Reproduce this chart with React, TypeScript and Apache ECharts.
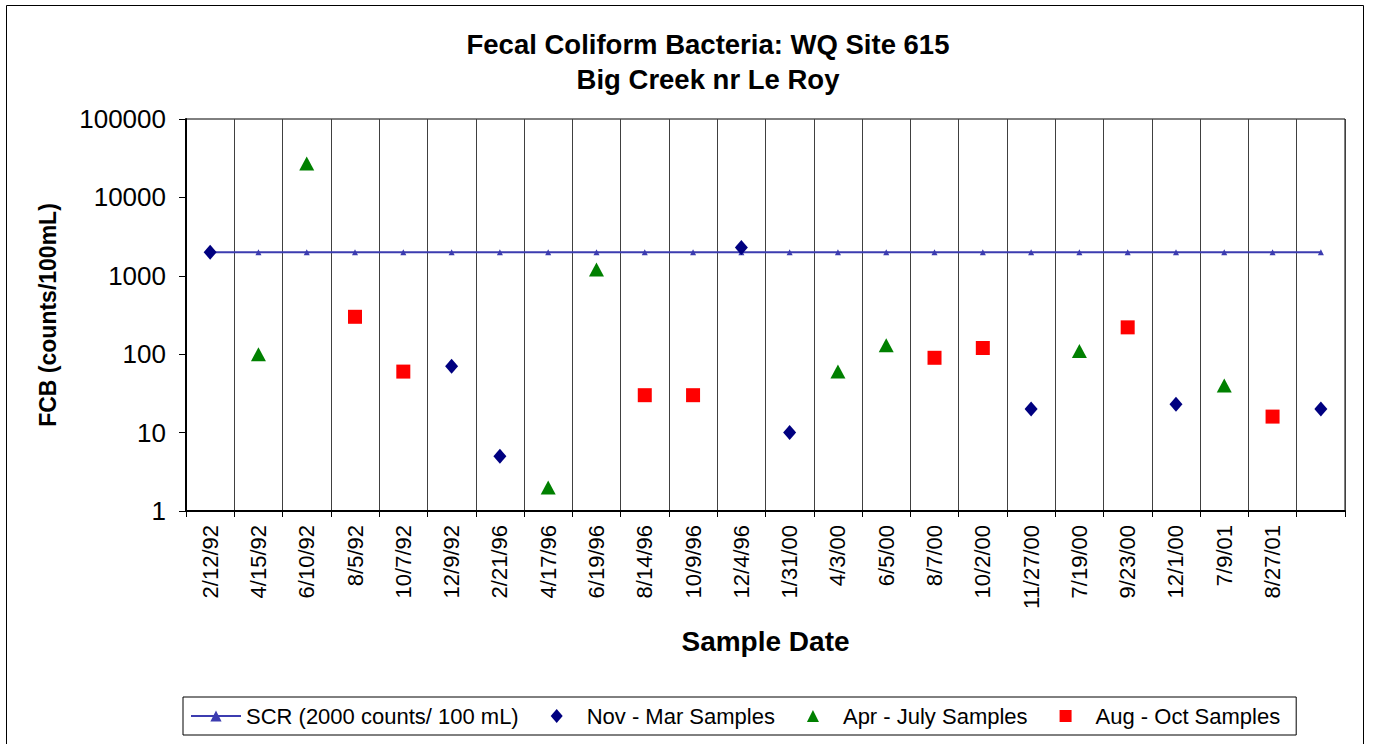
import React, { useEffect, useRef } from "react";
import * as echarts from "echarts";

const categories = ["2/12/92","4/15/92","6/10/92","8/5/92","10/7/92","12/9/92","2/21/96","4/17/96","6/19/96","8/14/96","10/9/96","12/4/96","1/31/00","4/3/00","6/5/00","8/7/00","10/2/00","11/27/00","7/19/00","9/23/00","12/1/00","7/9/01","8/27/01",""];
const scr = [2000,2000,2000,2000,2000,2000,2000,2000,2000,2000,2000,2000,2000,2000,2000,2000,2000,2000,2000,2000,2000,2000,2000,2000];
const novMar = [2000,null,null,null,null,70,5,null,null,null,null,2300,10,null,null,null,null,20,null,null,23,null,null,20];
const aprJul = [null,100,27000,null,null,null,null,2,1200,null,null,null,null,60,130,null,null,null,110,null,null,40,null,null];
const augOct = [null,null,null,300,60,null,null,null,null,30,30,null,null,null,null,90,120,null,null,220,null,null,16,null];
const yTicks = [1, 10, 100, 1000, 10000, 100000];

const FONT = "'Liberation Sans', Arial, sans-serif";

// legend icons: a 50x14 box (corner move-tos) with a small centred symbol
const ICON_DIAMOND = "path://M0,0M50,14M25,0L31,7L25,14L19,7Z";
const ICON_TRIANGLE = "path://M0,0M50,14M25,1L31,13L19,13Z";
const ICON_SQUARE = "path://M0,0M50,14M19,1L31,1L31,13L19,13Z";

export default function App() {
  const ref = useRef<HTMLDivElement>(null);
  useEffect(() => {
    document.body.style.margin = "0";
    const chart = echarts.init(ref.current!, null, { renderer: "svg" });
    chart.setOption({
      animation: false,
      backgroundColor: "#ffffff",
      textStyle: { fontFamily: FONT },
      title: {
        text: "Fecal Coliform Bacteria: WQ Site 615\nBig Creek nr Le Roy",
        left: 708,
        top: 27,
        textAlign: "center",
        padding: 0,
        textStyle: { fontFamily: FONT, fontSize: 27.5, fontWeight: "bold", color: "#000", lineHeight: 35 },
      },
      graphic: [
        {
          type: "rect",
          shape: { x: 6.5, y: 5.5, width: 1357, height: 800 },
          style: { fill: "none", stroke: "#000", lineWidth: 1 },
          silent: true,
          z: -1,
        },
      ],
      legend: {
        left: 183,
        top: 697,
        padding: [8, 16, 8, 7],
        itemGap: 13,
        itemWidth: 50,
        itemHeight: 14,
        borderColor: "#000",
        borderWidth: 1,
        textStyle: { fontFamily: FONT, fontSize: 22, color: "#000" },
        data: [
          { name: "SCR (2000 counts/ 100 mL)" },
          { name: "Nov - Mar Samples", icon: ICON_DIAMOND },
          { name: "Apr - July Samples", icon: ICON_TRIANGLE },
          { name: "Aug - Oct Samples", icon: ICON_SQUARE },
        ],
      },
      grid: {
        left: 186,
        right: 29,
        top: 119,
        bottom: 233,
        show: true,
        borderColor: "#000",
        borderWidth: 1,
        containLabel: false,
      },
      xAxis: {
        type: "category",
        data: categories,
        boundaryGap: true,
        name: "Sample Date",
        nameLocation: "middle",
        nameGap: 116,
        nameTextStyle: { fontFamily: FONT, fontSize: 28, fontWeight: "bold", color: "#000" },
        axisLine: { show: true, lineStyle: { color: "#000", width: 2 } },
        axisTick: { show: true, alignWithLabel: false, length: 6, lineStyle: { color: "#000" } },
        axisLabel: { rotate: 90, margin: 14, fontSize: 22, color: "#000", fontFamily: FONT, interval: 0 },
        splitLine: { show: true, interval: 0, lineStyle: { color: "#404040", width: 1 } },
      },
      yAxis: {
        type: "log",
        logBase: 10,
        min: yTicks[0],
        max: yTicks[yTicks.length - 1],
        name: "FCB (counts/100mL)",
        nameLocation: "middle",
        nameGap: 127,
        nameRotate: 90,
        nameTextStyle: { fontFamily: FONT, fontSize: 23, fontWeight: "bold", color: "#000" },
        axisLine: { show: true, lineStyle: { color: "#000", width: 2 } },
        axisTick: { show: true, length: 7, lineStyle: { color: "#000" } },
        minorTick: { show: false },
        axisLabel: { fontSize: 26, color: "#000", fontFamily: FONT, margin: 20, formatter: (v: number) => String(Math.round(v)) },
        splitLine: { show: false },
      },
      series: [
        {
          name: "SCR (2000 counts/ 100 mL)",
          type: "line",
          data: scr,
          symbol: "triangle",
          symbolSize: 6,
          itemStyle: { color: "#3c3cb0", opacity: 1 },
          lineStyle: { color: "#3c3cb0", width: 2 },
          z: 2,
        },
        {
          name: "Nov - Mar Samples",
          type: "scatter",
          data: novMar,
          symbol: "diamond",
          symbolSize: [13, 15],
          itemStyle: { color: "#000080", opacity: 1 },
          z: 3,
        },
        {
          name: "Apr - July Samples",
          type: "scatter",
          data: aprJul,
          symbol: "triangle",
          symbolSize: [15, 14],
          itemStyle: { color: "#008000", opacity: 1 },
          z: 3,
        },
        {
          name: "Aug - Oct Samples",
          type: "scatter",
          data: augOct,
          symbol: "rect",
          symbolSize: [14, 14],
          itemStyle: { color: "#ff0000", opacity: 1 },
          z: 3,
        },
      ],
    });
    return () => chart.dispose();
  }, []);
  return <div ref={ref} style={{ width: 1374, height: 744 }} />;
}
